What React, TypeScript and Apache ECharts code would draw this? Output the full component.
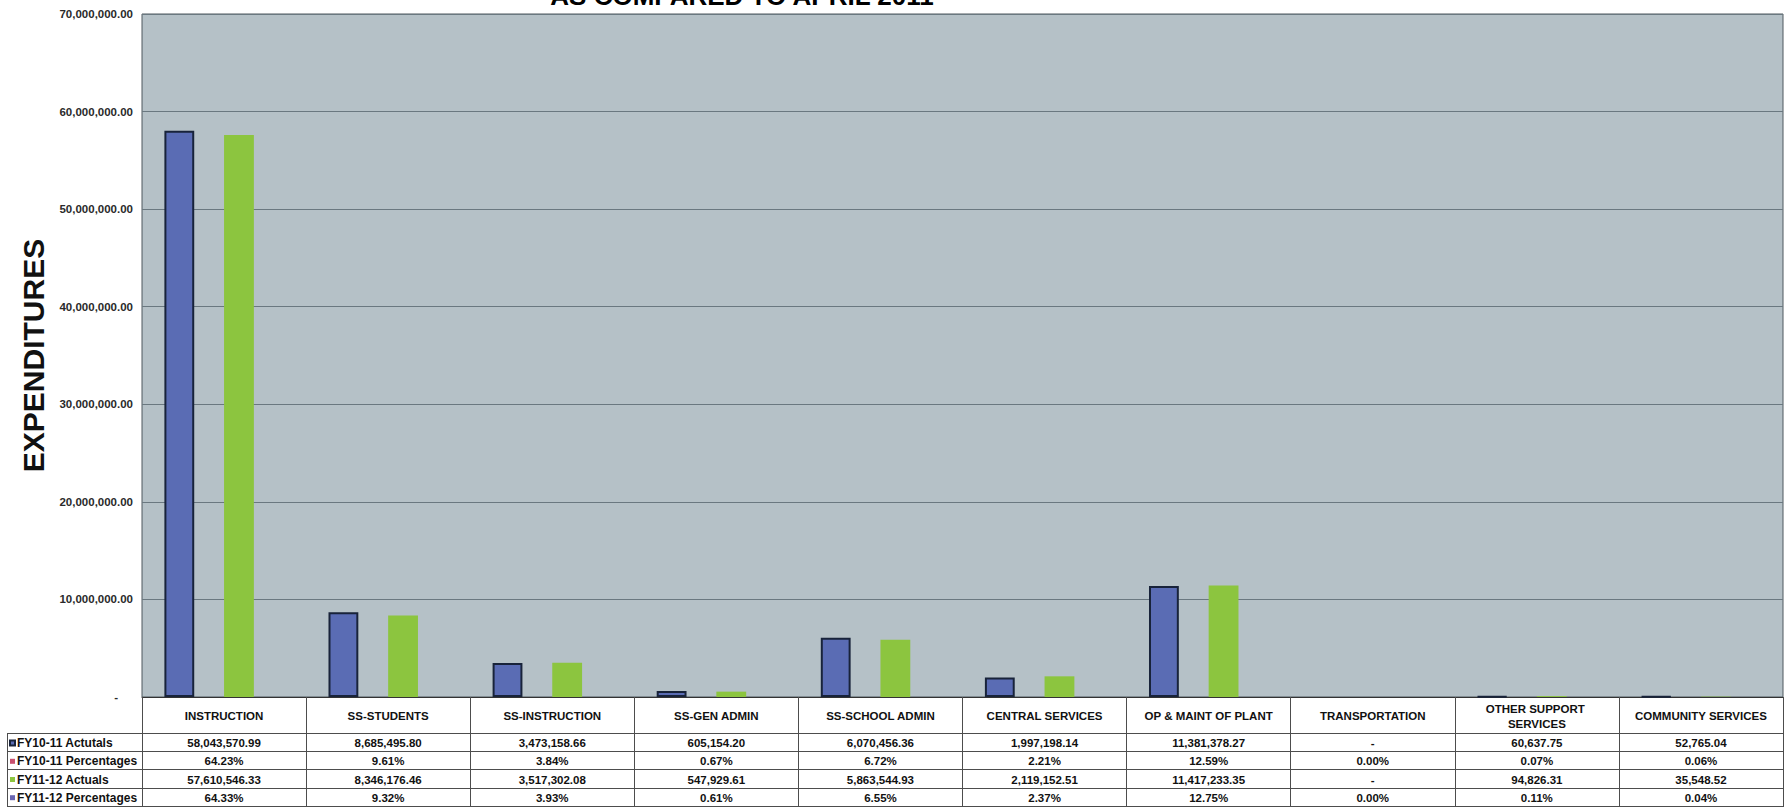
import React, { useEffect, useRef } from 'react';
import * as echarts from 'echarts';

// ---------- data ----------
const categories = [
  'INSTRUCTION',
  'SS-STUDENTS',
  'SS-INSTRUCTION',
  'SS-GEN ADMIN',
  'SS-SCHOOL ADMIN',
  'CENTRAL SERVICES',
  'OP & MAINT OF PLANT',
  'TRANSPORTATION',
  'OTHER SUPPORT SERVICES',
  'COMMUNITY SERVICES',
];
const fy1011Actuals = [58043570.99, 8685495.8, 3473158.66, 605154.2, 6070456.36, 1997198.14, 11381378.27, 0, 60637.75, 52765.04];
const fy1011Percentages = [64.23, 9.61, 3.84, 0.67, 6.72, 2.21, 12.59, 0.0, 0.07, 0.06];
const fy1112Actuals = [57610546.33, 8346176.46, 3517302.08, 547929.61, 5863544.93, 2119152.51, 11417233.35, 0, 94826.31, 35548.52];
const fy1112Percentages = [64.33, 9.32, 3.93, 0.61, 6.55, 2.37, 12.75, 0.0, 0.11, 0.04];
const seriesNames = ['FY10-11 Actutals', 'FY10-11 Percentages', 'FY11-12 Actuals', 'FY11-12 Percentages'];
const yMin = 0;
const yMax = 70000000;
const yStep = 10000000;
const titleText = 'AS COMPARED TO APRIL 2011';
const yAxisTitle = 'EXPENDITURES';

// ---------- layout / style ----------
const W = 1785;
const H = 808;
const GRID_LEFT = 142;
const GRID_RIGHT = 2;
const GRID_TOP = 14;
const AXIS_Y = 697;
const HEADER_BOTTOM = 734;
const ROW_H = 18.2;
const TABLE_LEFT = 7;
const FONT = "'Liberation Sans', Arial, sans-serif";
const LINE_COLOR = '#4d4d4d';

const fmtMoney = (v: number) =>
  v === 0 ? '-' : v.toLocaleString('en-US', { minimumFractionDigits: 2, maximumFractionDigits: 2 });
const fmtPct = (v: number) => v.toFixed(2) + '%';

const rows = [
  { name: seriesNames[0], values: fy1011Actuals, fmt: fmtMoney, color: '#5a6cb4', border: '#18233a', bw: 2 },
  { name: seriesNames[1], values: fy1011Percentages, fmt: fmtPct, color: '#c9506f', border: '#c9506f', bw: 0 },
  { name: seriesNames[2], values: fy1112Actuals, fmt: fmtMoney, color: '#8cc53f', border: '#8cc53f', bw: 0 },
  { name: seriesNames[3], values: fy1112Percentages, fmt: fmtPct, color: '#6a66b2', border: '#6a66b2', bw: 0 },
];

export default function App() {
  const ref = useRef<HTMLDivElement>(null);

  useEffect(() => {
    if (!ref.current) return;
    const chart = echarts.init(ref.current, undefined, { renderer: 'svg', width: W, height: H });

    const tableLines: any[] = [];
    const right = W - GRID_RIGHT;
    for (let i = 0; i <= rows.length; i++) {
      const y = Math.round(HEADER_BOTTOM + ROW_H * i) - 0.5;
      tableLines.push({
        type: 'line',
        shape: { x1: TABLE_LEFT, y1: y, x2: right, y2: y },
        style: { stroke: LINE_COLOR, lineWidth: 1 },
        silent: true,
      });
    }
    tableLines.push({
      type: 'line',
      shape: {
        x1: TABLE_LEFT + 0.5,
        y1: HEADER_BOTTOM - 0.5,
        x2: TABLE_LEFT + 0.5,
        y2: Math.round(HEADER_BOTTOM + ROW_H * rows.length) - 0.5,
      },
      style: { stroke: LINE_COLOR, lineWidth: 1 },
      silent: true,
    });

    const rowAxes = rows.map((r, i) => ({
      type: 'category',
      data: categories,
      gridIndex: 0,
      position: 'bottom',
      offset: HEADER_BOTTOM + ROW_H * (i + 0.5) - AXIS_Y,
      axisLine: { show: false, onZero: false },
      axisTick: { show: false },
      splitLine: { show: false },
      silent: true,
      axisLabel: {
        interval: 0,
        margin: 0,
        verticalAlign: 'middle',
        fontSize: 11.5,
        fontWeight: 'bold',
        fontFamily: FONT,
        color: '#111',
        formatter: (_v: string, idx: number) => r.fmt(r.values[idx]),
      },
    }));

    chart.setOption({
      animation: false,
      backgroundColor: '#ffffff',
      textStyle: { fontFamily: FONT },
      grid: {
        left: GRID_LEFT,
        right: GRID_RIGHT,
        top: GRID_TOP,
        bottom: H - AXIS_Y,
        show: true,
        backgroundColor: '#b5c1c7',
        borderColor: '#4f595e',
        borderWidth: 1,
      },
      legend: {
        orient: 'vertical',
        left: TABLE_LEFT + 2,
        top: HEADER_BOTTOM,
        padding: 0,
        itemGap: 0,
        itemWidth: 5,
        itemHeight: 5,
        icon: 'rect',
        selectedMode: false,
        data: seriesNames,
        textStyle: {
          fontSize: 12,
          fontWeight: 'bold',
          fontFamily: FONT,
          color: '#111',
          lineHeight: ROW_H,
          padding: [0, 0, 0, -3],
        },
      },
      xAxis: [
        {
          type: 'category',
          data: categories,
          position: 'bottom',
          axisLine: { show: true, onZero: false, lineStyle: { color: '#333', width: 1 } },
          axisTick: { show: true, length: H - AXIS_Y - 1, lineStyle: { color: LINE_COLOR, width: 1 } },
          splitLine: { show: false },
          axisLabel: {
            interval: 0,
            margin: 19,
            verticalAlign: 'middle',
            fontSize: 11.5,
            fontWeight: 'bold',
            fontFamily: FONT,
            color: '#111',
            width: 145,
            overflow: 'break',
            lineHeight: 15,
          },
        },
        ...rowAxes,
      ],
      yAxis: {
        type: 'value',
        min: yMin,
        max: yMax,
        interval: yStep,
        name: yAxisTitle,
        nameLocation: 'middle',
        nameRotate: 90,
        nameGap: 94,
        nameTextStyle: { fontSize: 30, fontWeight: 'bold', color: '#111', fontFamily: FONT },
        axisLine: { show: false },
        axisTick: { show: false },
        splitLine: { show: true, lineStyle: { color: '#6a7880', width: 1 } },
        axisLabel: {
          margin: 9,
          fontSize: 11.5,
          fontWeight: 'bold',
          color: '#2a2a2a',
          fontFamily: FONT,
          formatter: (v: number) =>
            v === 0 ? '{d|-}' : v.toLocaleString('en-US', { minimumFractionDigits: 2, maximumFractionDigits: 2 }),
          rich: { d: { fontSize: 11.5, fontWeight: 'bold', color: '#2a2a2a', padding: [0, 15, 0, 0] } },
        },
      },
      series: rows.map((r) => ({
        name: r.name,
        type: 'bar',
        xAxisIndex: 0,
        data: r.values.map((v) => (v === 0 ? { value: v, itemStyle: { borderWidth: 0 } } : v)),
        barGap: '0%',
        barCategoryGap: '27.3%',
        itemStyle: { color: r.color, borderColor: r.border, borderWidth: r.bw },
        emphasis: { disabled: true },
      })),
      graphic: [
        {
          type: 'text',
          x: 742,
          y: -4,
          silent: true,
          style: {
            text: titleText,
            fontSize: 26,
            fontWeight: 'bold',
            fontFamily: FONT,
            fill: '#000',
            align: 'center',
            verticalAlign: 'middle',
          },
        },
        ...tableLines,
      ],
    });

    return () => chart.dispose();
  }, []);

  return (
    <div
      ref={ref}
      style={{ position: 'fixed', left: 0, top: 0, width: W, height: H, background: '#fff' }}
    />
  );
}
